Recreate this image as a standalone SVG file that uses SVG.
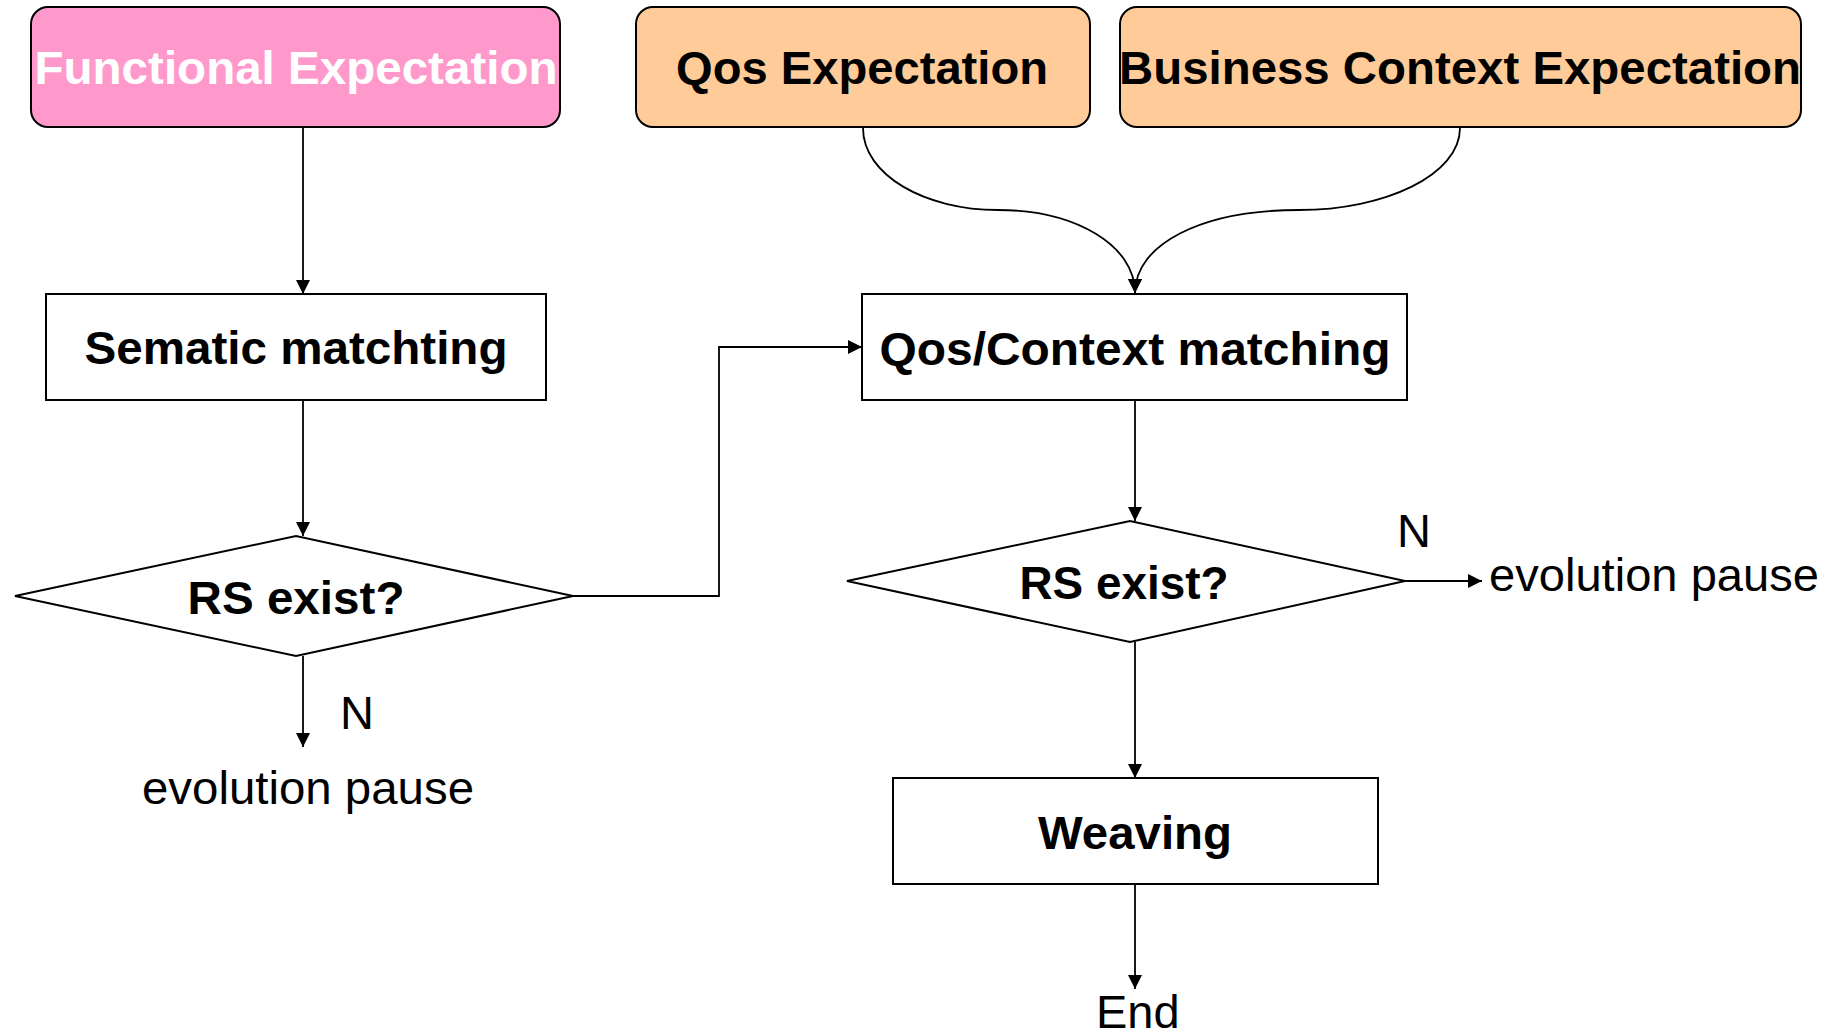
<svg xmlns="http://www.w3.org/2000/svg" width="1843" height="1035" viewBox="0 0 1843 1035">
  <style>
    .box { stroke: #000; stroke-width: 2; }
    .plain { fill: #fff; stroke: #000; stroke-width: 2; }
    .lbl { font-family: "Liberation Sans", Arial, sans-serif; font-size: 47px; font-weight: bold; fill: #000; text-anchor: middle; }
    .txt { font-family: "Liberation Sans", Arial, sans-serif; font-size: 47px; fill: #000; }
    .wire { fill: none; stroke: #000; stroke-width: 1.8; }
  </style>
  <defs>
    <!-- solid triangular head shared by every connector -->
    <marker id="arrow" viewBox="0 0 10 10" refX="10" refY="5" markerWidth="15" markerHeight="14" markerUnits="userSpaceOnUse" orient="auto">
      <path d="M0,0 L10,5 L0,10 Z" fill="#000"/>
    </marker>
  </defs>
  <rect width="1843" height="1035" fill="#fff"/>

  <!-- connectors -->
  <g id="connectors">
    <line class="wire" x1="303" y1="127" x2="303" y2="294" marker-end="url(#arrow)"/>
    <line class="wire" x1="303" y1="400" x2="303" y2="536" marker-end="url(#arrow)"/>
    <line class="wire" x1="303" y1="656" x2="303" y2="747" marker-end="url(#arrow)"/>
    <polyline class="wire" points="573,596 719,596 719,347 862,347" marker-end="url(#arrow)"/>
    <path class="wire" d="M863,128 C863,175 925,210 998,210 C1075,210 1135,245 1135,293" marker-end="url(#arrow)"/>
    <path class="wire" d="M1460,128 C1460,175 1385,210 1299,210 C1200,210 1135,245 1135,293" marker-end="url(#arrow)"/>
    <line class="wire" x1="1135" y1="400" x2="1135" y2="521" marker-end="url(#arrow)"/>
    <line class="wire" x1="1405" y1="581" x2="1482" y2="581" marker-end="url(#arrow)"/>
    <line class="wire" x1="1135" y1="642" x2="1135" y2="778" marker-end="url(#arrow)"/>
    <line class="wire" x1="1135" y1="884" x2="1135" y2="989" marker-end="url(#arrow)"/>
  </g>

  <g id="functional-expectation">
    <rect class="box" x="31" y="7" width="529" height="120" rx="17" fill="#FF99CC"/>
    <text class="lbl" x="296" y="84" textLength="523" lengthAdjust="spacingAndGlyphs" style="fill:#fff">Functional Expectation</text>
  </g>

  <g id="qos-expectation">
    <rect class="box" x="636" y="7" width="454" height="120" rx="17" fill="#FFCC99"/>
    <text class="lbl" x="862" y="84" textLength="372" lengthAdjust="spacingAndGlyphs">Qos Expectation</text>
  </g>

  <g id="business-context-expectation">
    <rect class="box" x="1120" y="7" width="681" height="120" rx="17" fill="#FFCC99"/>
    <text class="lbl" x="1460" y="84" textLength="682" lengthAdjust="spacingAndGlyphs">Business Context Expectation</text>
  </g>

  <g id="sematic-matching">
    <rect class="plain" x="46" y="294" width="500" height="106"/>
    <text class="lbl" x="296" y="364" textLength="423" lengthAdjust="spacingAndGlyphs">Sematic matchting</text>
  </g>

  <g id="rs-exist-left">
    <polygon class="plain" points="15,596 296,536 573,596 296,656"/>
    <text class="lbl" x="296" y="614" textLength="217" lengthAdjust="spacingAndGlyphs">RS exist?</text>
  </g>

  <g id="pause-left">
    <text class="txt" x="340" y="729">N</text>
    <text class="txt" x="142" y="804" textLength="332" lengthAdjust="spacingAndGlyphs">evolution pause</text>
  </g>

  <g id="qos-context-matching">
    <rect class="plain" x="862" y="294" width="545" height="106"/>
    <text class="lbl" x="1135" y="365" textLength="511" lengthAdjust="spacingAndGlyphs">Qos/Context matching</text>
  </g>

  <g id="rs-exist-right">
    <polygon class="plain" points="847,581 1130,521 1405,581 1130,642"/>
    <text class="lbl" x="1124" y="599" textLength="209" lengthAdjust="spacingAndGlyphs">RS exist?</text>
  </g>

  <g id="pause-right">
    <text class="txt" x="1397" y="547">N</text>
    <text class="txt" x="1489" y="591" textLength="330" lengthAdjust="spacingAndGlyphs">evolution pause</text>
  </g>

  <g id="weaving">
    <rect class="plain" x="893" y="778" width="485" height="106"/>
    <text class="lbl" x="1135" y="849" textLength="194" lengthAdjust="spacingAndGlyphs">Weaving</text>
  </g>

  <g id="end">
    <text class="txt" x="1096" y="1028">End</text>
  </g>
</svg>
